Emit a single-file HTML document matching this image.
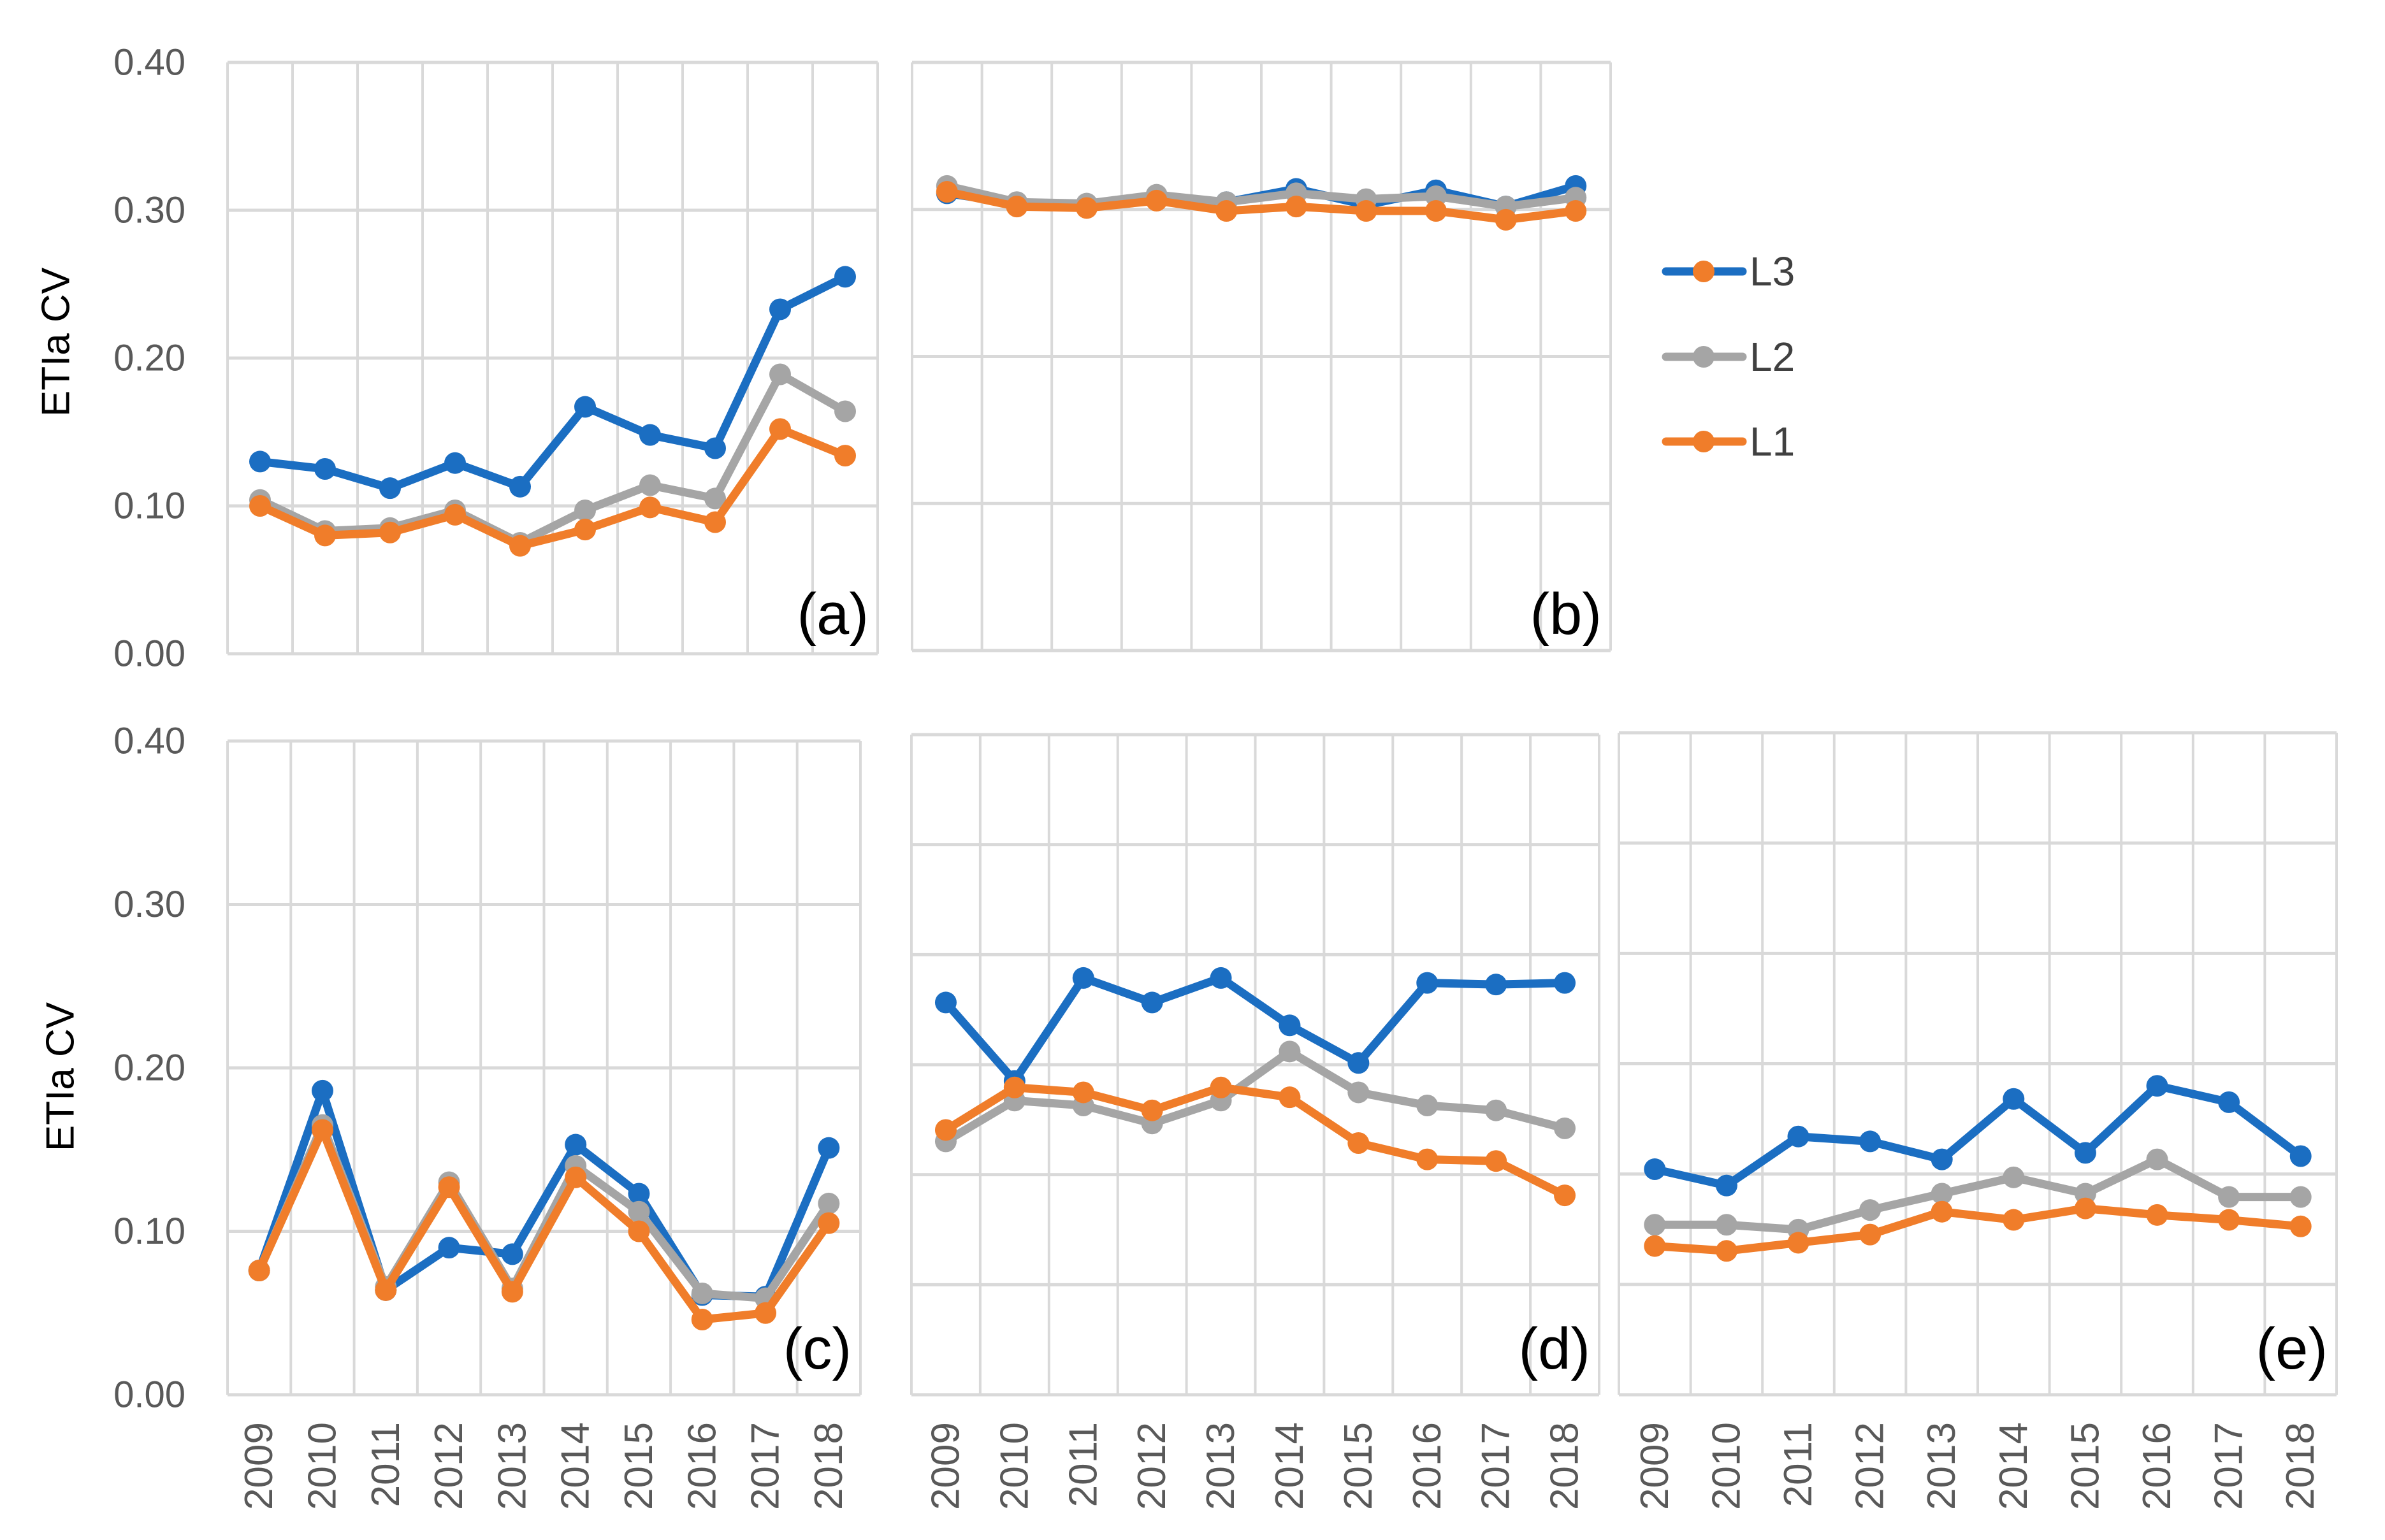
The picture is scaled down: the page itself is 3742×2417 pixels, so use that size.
<!DOCTYPE html>
<html><head><meta charset="utf-8">
<style>
html,body{margin:0;padding:0;background:#fff;}
svg{display:block;}
text{font-family:"Liberation Sans",sans-serif;}
</style></head>
<body>
<svg id="chart" width="3742" height="2417" viewBox="0 0 3742 2417" xmlns="http://www.w3.org/2000/svg">
<rect width="3742" height="2417" fill="#fff"/>
</svg>
<script>
const years = ["2009","2010","2011","2012","2013","2014","2015","2016","2017","2018"];
const yTicks = ["0.00","0.10","0.20","0.30","0.40"];
const seriesNames = ["L3","L2","L1"];

const aL3 = [0.130,0.125,0.112,0.129,0.113,0.167,0.148,0.139,0.233,0.255];
const aL2 = [0.104,0.083,0.085,0.097,0.075,0.097,0.114,0.105,0.189,0.164];
const aL1 = [0.100,0.080,0.082,0.094,0.073,0.084,0.099,0.089,0.152,0.134];

const bL3 = [0.311,0.304,0.303,0.309,0.305,0.314,0.303,0.313,0.302,0.316];
const bL2 = [0.316,0.305,0.304,0.310,0.305,0.311,0.307,0.309,0.302,0.308];
const bL1 = [0.312,0.302,0.301,0.306,0.299,0.302,0.299,0.299,0.293,0.299];

const cL3 = [0.076,0.186,0.064,0.090,0.086,0.153,0.123,0.061,0.060,0.151];
const cL2 = [0.076,0.165,0.066,0.130,0.065,0.140,0.112,0.062,0.059,0.117];
const cL1 = [0.076,0.162,0.064,0.127,0.063,0.133,0.100,0.046,0.050,0.105];

const dL3 = [0.240,0.192,0.255,0.240,0.255,0.226,0.203,0.252,0.251,0.252];
const dL2 = [0.155,0.180,0.177,0.166,0.180,0.210,0.185,0.177,0.174,0.163];
const dL1 = [0.162,0.188,0.185,0.174,0.188,0.182,0.154,0.144,0.143,0.122];

const eL3 = [0.138,0.128,0.158,0.155,0.144,0.181,0.148,0.189,0.179,0.146];
const eL2 = [0.104,0.104,0.101,0.113,0.123,0.133,0.123,0.144,0.121,0.121];
const eL1 = [0.091,0.088,0.093,0.098,0.112,0.107,0.114,0.110,0.107,0.103];

const NS = "http://www.w3.org/2000/svg";
const svg = document.getElementById("chart");
const COL = {L3:"#1B6EC2", L2:"#A5A5A5", L1:"#F07D2A"};
function mk(tag, attrs, parent){
  const e = document.createElementNS(NS, tag);
  for (const k in attrs) e.setAttribute(k, attrs[k]);
  (parent||svg).appendChild(e);
  return e;
}

const panels = [
  {id:"a", x0:357, x1:1377, gTop:98, gBot:1026, vBot:1026, bands:4, s:[aL3,aL2,aL1], ticks:true, xlab:false, lblY:995},
  {id:"b", x0:1431, x1:2527, gTop:98, gBot:1021, vBot:1021, bands:4, s:[bL3,bL2,bL1], ticks:false, xlab:false, lblY:995},
  {id:"c", x0:357, x1:1350, gTop:1163, gBot:2189, vBot:2189, bands:4, s:[cL3,cL2,cL1], ticks:true, xlab:true, lblY:2148},
  {id:"d", x0:1430, x1:2509, gTop:1153, gBot:2189, vBot:2189, bands:6, s:[dL3,dL2,dL1], ticks:false, xlab:true, lblY:2148},
  {id:"e", x0:2540, x1:3666, gTop:1150, gBot:2189, vBot:2189, bands:6, s:[eL3,eL2,eL1], ticks:false, xlab:true, lblY:2148}
];
const pxPer01 = {a:232, b:230.75, c:256.5, d:256.5, e:256.5};

panels.forEach(p => {
  const g = mk("g", {});
  
  
  const n = years.length;
  const cw = (p.x1 - p.x0) / n;
  const xOf = i => p.x0 + cw * (i + 0.5);
  const yOf = v => p.vBot - v * 10 * pxPer01[p.id];
  for (let k = 0; k <= p.bands; k++) {
    const y = p.gTop + (p.gBot - p.gTop) * k / p.bands;
    const l = mk("line", {x1:p.x0, x2:p.x1, y1:y, y2:y, stroke:"#D9D9D9", "stroke-width":5}, g);
    
    
  }
  for (let i = 0; i <= n; i++) {
    const x = p.x0 + cw * i;
    const l = mk("line", {x1:x, x2:x, y1:p.gTop, y2:p.gBot, stroke:"#D9D9D9", "stroke-width":4}, g);
    
    
  }
  if (p.ticks) {
    yTicks.forEach((t, k) => {
      const y = p.gBot - (p.gBot - p.gTop) * k / 4;
      const tx = mk("text", {x:291, y:y, "text-anchor":"end", "dominant-baseline":"central", "font-size":58, fill:"#595959"}, g);
      tx.textContent = t;
      
      
    });
  }
  if (p.xlab) {
    years.forEach((yr, i) => {
      const x = xOf(i);
      const tx = mk("text", {x:x, y:2232, "text-anchor":"end", "dominant-baseline":"central", "font-size":62, fill:"#595959", transform:`rotate(-90 ${x} 2232)`}, g);
      tx.textContent = yr;
      
      
    });
  }
  [0,1,2].forEach(si => {
    const vals = p.s[si];
    const name = seriesNames[si];
    const pts = vals.map((v, i) => xOf(i) + "," + yOf(v)).join(" ");
    const pl = mk("polyline", {points:pts, fill:"none", stroke:COL[name], "stroke-width":13, "stroke-linejoin":"round"}, g);
    
    
    vals.forEach((v, i) => {
      const c = mk("circle", {cx:xOf(i), cy:yOf(v), r:17, fill:COL[name]}, g);
      
      
    });
  });
  const lb = mk("text", {x:p.x1 - 14, y:p.lblY, "text-anchor":"end", "font-size":92, fill:"#000", style:"font-family:'Liberation Sans Narrow','Liberation Sans',sans-serif"}, g);
  lb.textContent = "(" + p.id + ")";
  
  
});

[[88,537],[95,1690]].forEach(([x,y]) => {
  const t = mk("text", {x:x, y:y, "text-anchor":"middle", "dominant-baseline":"central", "font-size":62, fill:"#000", transform:`rotate(-90 ${x} ${y})`});
  t.textContent = "ETIa CV";
  
  
});

const legY = [426, 560, 693];
const legMarker = ["#F07D2A", COL.L2, COL.L1];
seriesNames.forEach((nm, k) => {
  const g = mk("g", {});
  
  
  mk("line", {x1:2614, x2:2734, y1:legY[k], y2:legY[k], stroke:COL[nm], "stroke-width":13, "stroke-linecap":"round"}, g);
  mk("circle", {cx:2673, cy:legY[k], r:17, fill:legMarker[k]}, g);
  const t = mk("text", {x:2745, y:legY[k], "dominant-baseline":"central", "font-size":64, fill:"#404040", style:"font-family:'Liberation Sans Narrow','Liberation Sans',sans-serif"}, g);
  t.textContent = nm;
});
</script>
</body></html>
